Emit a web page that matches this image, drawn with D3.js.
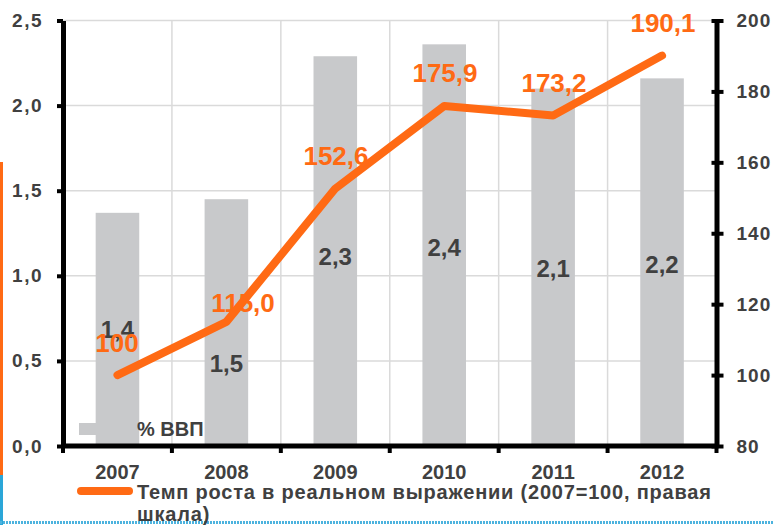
<!DOCTYPE html>
<html>
<head>
<meta charset="utf-8">
<script src="https://cdn.jsdelivr.net/npm/d3@7/dist/d3.min.js"></script>
<style>
  body { margin: 0; background: #fff; }
  svg { display: block; font-family: "Liberation Sans", Arial, sans-serif; font-weight: bold; }
</style>
</head>
<body>
<svg id="chart" width="774" height="525"></svg>
<script>
// data
var years = ["2007", "2008", "2009", "2010", "2011", "2012"];
var gdpShare = [1.37, 1.45, 2.29, 2.36, 2.10, 2.16];       // bars, left scale
var gdpLabels = ["1,4", "1,5", "2,3", "2,4", "2,1", "2,2"];
var growth = [100, 115.0, 152.6, 175.9, 173.2, 190.1];     // line, right scale
var growthLabels = ["100", "115,0", "152,6", "175,9", "173,2", "190,1"];
var leftTicks = [0, 0.5, 1.0, 1.5, 2.0, 2.5];
var rightTicks = [80, 100, 120, 140, 160, 180, 200];

var orange = "#ff6a14",
    grey = "#c8c9cb",
    ink = "#404040";

var svg = d3.select("#chart");
var margin = {top: 20.5, left: 63, right: 57.5, bottom: 79},
    W = 774, H = 525;

var x = d3.scaleBand()
  .domain(years)
  .range([margin.left, W - margin.right])
  .paddingInner(0.6)
  .paddingOuter(0.3);

var y = d3.scaleLinear().domain([0, 2.5]).range([H - margin.bottom, margin.top]);
var y2 = d3.scaleLinear().domain([80, 200]).range([H - margin.bottom, margin.top]);

// page decorations on the left / bottom edge
svg.append("rect").attr("x", 0).attr("y", 162).attr("width", 3).attr("height", 313).attr("fill", orange);
svg.append("rect").attr("x", 0).attr("y", 475).attr("width", 3).attr("height", 50).attr("fill", "#2aa6d8");
svg.append("line").attr("x1", 0).attr("x2", W).attr("y1", 522.5).attr("y2", 522.5)
  .attr("stroke", "#4db3de").attr("stroke-width", 3).attr("stroke-dasharray", "2,1");

// grid
var boundaries = d3.range(years.length + 1).map(i => margin.left + i * x.step());
svg.append("g").selectAll("line.h")
  .data(leftTicks.slice(1))
  .enter().append("line")
  .attr("x1", margin.left).attr("x2", W - margin.right)
  .attr("y1", d => y(d)).attr("y2", d => y(d))
  .attr("stroke", "#dadada").attr("stroke-width", 1.5);
svg.append("g").selectAll("line.v")
  .data(boundaries.slice(1, -1))
  .enter().append("line")
  .attr("x1", d => d).attr("x2", d => d)
  .attr("y1", margin.top).attr("y2", y(0))
  .attr("stroke", "#dadada").attr("stroke-width", 1.5);

// bars
svg.append("g").selectAll("rect")
  .data(years)
  .enter().append("rect")
  .attr("x", d => x(d))
  .attr("width", x.bandwidth())
  .attr("y", (d, i) => y(gdpShare[i]))
  .attr("height", (d, i) => y(0) - y(gdpShare[i]))
  .attr("fill", grey);

// legend: bars
svg.append("rect").attr("x", 79).attr("y", 423).attr("width", 36).attr("height", 12).attr("fill", grey);
svg.append("text").attr("x", 137).attr("y", 436).attr("font-size", 20).attr("fill", ink).text("% ВВП");

// bar labels
var barLabelY = [338, 372, 265, 256, 277, 273];
svg.append("g").selectAll("text")
  .data(gdpLabels)
  .enter().append("text")
  .attr("x", (d, i) => x(years[i]) + x.bandwidth() / 2)
  .attr("y", (d, i) => barLabelY[i])
  .attr("text-anchor", "middle")
  .attr("font-size", 24)
  .attr("fill", ink)
  .text(d => d);

// axes
function styleAxis(g) {
  g.select(".domain").attr("stroke", "#000").attr("stroke-width", 5);
  g.selectAll(".tick line").attr("stroke", "#000").attr("stroke-width", 4);
  g.selectAll("text").attr("fill", ink).attr("font-weight", "bold");
}

svg.append("g")
  .attr("transform", `translate(${margin.left},0)`)
  .call(d3.axisLeft(y).tickValues(leftTicks).tickSize(6).tickSizeOuter(0).tickPadding(14)
    .tickFormat(d => d3.format(".1f")(d).replace(".", ",")))
  .call(styleAxis)
  .selectAll("text").attr("font-size", 19).attr("letter-spacing", 1.5);

var rightAxis = svg.append("g")
  .attr("transform", `translate(${W - margin.right},0)`)
  .call(d3.axisRight(y2).tickValues(rightTicks).tickSize(7).tickSizeOuter(0).tickPadding(13))
  .call(styleAxis);
rightAxis.selectAll("text").attr("font-size", 19).attr("letter-spacing", 1);
rightAxis.selectAll(".tick line").attr("x1", -5);

var bottom = svg.append("g")
  .attr("transform", `translate(0,${y(0)})`)
  .call(d3.axisBottom(x).tickSize(0).tickPadding(19))
  .call(styleAxis);
bottom.select(".domain").attr("d", `M${margin.left - 2},0H${W - margin.right + 2}`);
bottom.selectAll("text").attr("font-size", 20);
bottom.selectAll("line.b")
  .data(boundaries)
  .enter().append("line")
  .attr("x1", d => d).attr("x2", d => d)
  .attr("y1", 0).attr("y2", 7)
  .attr("stroke", "#000").attr("stroke-width", 4);

// line
var line = d3.line()
  .x((d, i) => x(years[i]) + x.bandwidth() / 2)
  .y(d => y2(d));

svg.append("path")
  .datum(growth)
  .attr("d", line)
  .attr("fill", "none")
  .attr("stroke", orange)
  .attr("stroke-width", 8)
  .attr("stroke-linecap", "round")
  .attr("stroke-linejoin", "round");

// line labels
var lineLabelPos = [[117, 352], [243, 312], [336, 165], [445, 82], [554, 92], [663, 32]];
svg.append("g").selectAll("text")
  .data(growthLabels)
  .enter().append("text")
  .attr("x", (d, i) => lineLabelPos[i][0])
  .attr("y", (d, i) => lineLabelPos[i][1])
  .attr("text-anchor", "middle")
  .attr("font-size", 26)
  .attr("fill", orange)
  .text(d => d);

// legend: line
svg.append("line").attr("x1", 81).attr("x2", 129).attr("y1", 491).attr("y2", 491)
  .attr("stroke", orange).attr("stroke-width", 8).attr("stroke-linecap", "round");
var lg = svg.append("text").attr("font-size", 20).attr("fill", ink).attr("letter-spacing", 0.8);
lg.append("tspan").attr("x", 137).attr("y", 499).text("Темп роста в реальном выражении (2007=100, правая");
lg.append("tspan").attr("x", 137).attr("y", 521).text("шкала)");
</script>
</body>
</html>
